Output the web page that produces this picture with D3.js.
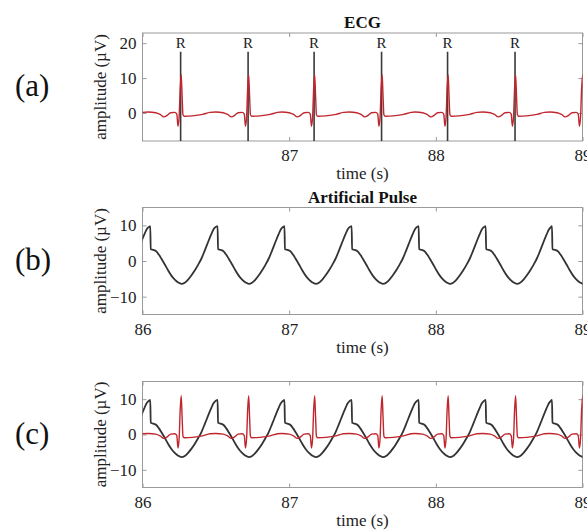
<!DOCTYPE html>
<html>
<head>
<meta charset="utf-8">
<script src="https://cdn.jsdelivr.net/npm/d3@7/dist/d3.min.js"></script>
<style>
  body { margin: 0; background: #fff; }
  svg { display: block; font-family: "Liberation Serif", "Times New Roman", serif; }
  .tick text { font-size: 17px; fill: #222; }
  .tick line { stroke: #9a9a9a; }
</style>
</head>
<body>
<div id="chart"></div>
<script>
// ---- data ----
// times (s) of each R peak in the ECG
var rPeakTimes = [85.80, 86.26, 86.72, 87.17, 87.63, 88.08, 88.54, 88.997];
// R peaks marked with a label + vertical line in panel (a)
var rMarkedTimes = [86.26, 86.72, 87.17, 87.63, 88.08, 88.54];
// one ECG beat, offset (s) from its R peak and amplitude (µV)
var ecgBeatOffsets = [-0.22, -0.17, -0.14, -0.115, -0.09, -0.068, -0.04, -0.026, -0.018, -0.01, -0.003, 0.004, 0.01, 0.016, 0.024, 0.08, 0.15, 0.20];
var ecgBeatValues  = [0.3, 0.1, -0.4, -1.1, -0.6, 0.1, 0.2, -0.3, -3.8, -1.0, 7.0, 11.0, 5.0, -0.5, -0.9, -0.8, -0.4, 0.2];

// times (s) of each peak of the artificial pulse
var pulsePeakTimes = [85.597, 86.053, 86.512, 86.968, 87.426, 87.883, 88.34, 88.792, 89.25];
// one pulse cycle, offset (s) from its peak and amplitude (µV)
var pulseOffsets = [0, 0.003, 0.02, 0.041, 0.058, 0.075, 0.098, 0.121, 0.144, 0.167, 0.19, 0.212, 0.235, 0.258, 0.281, 0.304, 0.327, 0.349, 0.372, 0.395, 0.414, 0.429, 0.442];
var pulseValues  = [9.8, 3.3, 3.1, 2.7, 1.8, 0.7, -0.9, -2.6, -4.1, -5.2, -6.0, -6.4, -6.1, -5.2, -4.0, -2.6, -1.0, 0.7, 3.0, 5.4, 7.3, 8.7, 9.4];

var xTicksA = [87, 88, 89];
var xTicksBC = [86, 87, 88, 89];
var yTicksA = [0, 10, 20];
var yTicksBC = [-10, 0, 10];

// build the full traces from the beat shapes
function buildTrace(times, offsets, values) {
  var pts = [];
  times.forEach(function(t0) {
    offsets.forEach(function(o, i) { pts.push([t0 + o, values[i]]); });
  });
  pts.sort(function(a, b) { return a[0] - b[0]; });
  return pts;
}
var ecg = buildTrace(rPeakTimes, ecgBeatOffsets, ecgBeatValues);
var pulse = buildTrace(pulsePeakTimes, pulseOffsets, pulseValues);

var width = 587, height = 532;
var left = 142.5, right = 582.5;

var svg = d3.select("#chart").append("svg")
    .attr("width", width)
    .attr("height", height);

var x = d3.scaleLinear().domain([86, 89]).range([left, right]);

var panels = [
  {id: "a", top: 33, bottom: 141, yDomain: [-8, 22.9], xTicks: xTicksA, yTicks: yTicksA, title: "ECG", label: "(a)"},
  {id: "b", top: 207.5, bottom: 314.5, yDomain: [-15, 15], xTicks: xTicksBC, yTicks: yTicksBC, title: "Artificial Pulse", label: "(b)"},
  {id: "c", top: 381.5, bottom: 487.5, yDomain: [-15, 15], xTicks: xTicksBC, yTicks: yTicksBC, title: null, label: "(c)"}
];

panels.forEach(function(p) {
  var y = d3.scaleLinear().domain(p.yDomain).range([p.bottom, p.top]);
  var g = svg.append("g").attr("class", "panel-" + p.id);

  g.append("clipPath").attr("id", "clip-" + p.id)
    .append("rect")
    .attr("x", left).attr("y", p.top)
    .attr("width", right - left).attr("height", p.bottom - p.top);

  // axes, MATLAB style: ticks inward on all four sides
  var xb = g.append("g").attr("transform", "translate(0," + p.bottom + ")")
      .call(d3.axisBottom(x).tickValues(p.xTicks).tickSize(-4).tickPadding(8).tickFormat(d3.format("d")));
  var xt = g.append("g").attr("transform", "translate(0," + p.top + ")")
      .call(d3.axisTop(x).tickValues(xTicksBC).tickSize(-4).tickFormat(""));
  var yl = g.append("g").attr("transform", "translate(" + left + ",0)")
      .call(d3.axisLeft(y).tickValues(p.yTicks).tickSize(-4).tickPadding(6));
  var yr = g.append("g").attr("transform", "translate(" + right + ",0)")
      .call(d3.axisRight(y).tickValues(p.yTicks).tickSize(-4).tickFormat(""));
  [xb, xt, yl, yr].forEach(function(a) {
    a.select(".domain").remove();
    a.attr("font-family", null).attr("font-size", null);
  });

  g.append("rect")
    .attr("x", left).attr("y", p.top)
    .attr("width", right - left).attr("height", p.bottom - p.top)
    .attr("fill", "none")
    .attr("stroke", "#9a9a9a")
    .attr("stroke-width", 1);

  var line = d3.line()
      .x(function(d) { return x(d[0]); })
      .y(function(d) { return y(d[1]); })
      .curve(d3.curveMonotoneX);

  var plot = g.append("g").attr("clip-path", "url(#clip-" + p.id + ")");

  if (p.id === "a") {
    // R markers
    plot.selectAll(".rline").data(rMarkedTimes).enter().append("line")
      .attr("class", "rline")
      .attr("x1", function(d) { return x(d); })
      .attr("x2", function(d) { return x(d); })
      .attr("y1", y(17.5))
      .attr("y2", y(p.yDomain[0]))
      .attr("stroke", "#3a3a3a")
      .attr("stroke-width", 1.6);
    g.selectAll(".rlab").data(rMarkedTimes).enter().append("text")
      .attr("class", "rlab")
      .attr("x", function(d) { return x(d); })
      .attr("y", 48)
      .attr("text-anchor", "middle")
      .attr("font-size", 15)
      .attr("fill", "#222")
      .text("R");
  }
  if (p.id === "b" || p.id === "c") {
    plot.append("path").datum(pulse)
      .attr("d", line)
      .attr("fill", "none")
      .attr("stroke", "#333")
      .attr("stroke-width", 1.8);
  }
  if (p.id === "a" || p.id === "c") {
    plot.append("path").datum(ecg)
      .attr("d", line)
      .attr("fill", "none")
      .attr("stroke", "#c0262d")
      .attr("stroke-width", 1.4);
  }

  // titles and labels
  if (p.title) {
    g.append("text")
      .attr("x", (left + right) / 2)
      .attr("y", p.top - 5)
      .attr("text-anchor", "middle")
      .attr("font-size", 17)
      .attr("font-weight", "bold")
      .attr("fill", "#111")
      .text(p.title);
  }
  g.append("text")
    .attr("x", (left + right) / 2)
    .attr("y", p.bottom + 38)
    .attr("text-anchor", "middle")
    .attr("font-size", 17)
    .attr("fill", "#222")
    .text("time (s)");
  g.append("text")
    .attr("transform", "translate(106," + ((p.top + p.bottom) / 2) + ") rotate(-90)")
    .attr("text-anchor", "middle")
    .attr("font-size", 17)
    .attr("fill", "#222")
    .text("amplitude (\u00B5V)");
  g.append("text")
    .attr("x", 15)
    .attr("y", (p.top + p.bottom) / 2 + 9)
    .attr("font-size", 31)
    .attr("fill", "#111")
    .text(p.label);
});
</script>
</body>
</html>
